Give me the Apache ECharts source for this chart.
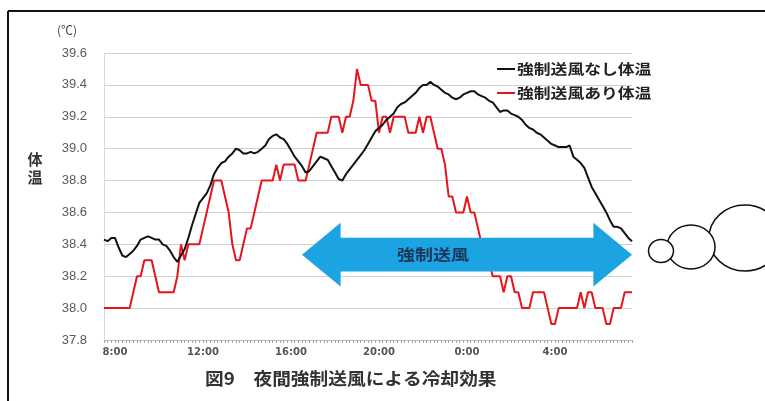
<!DOCTYPE html>
<html><head><meta charset="utf-8">
<script src="https://cdn.jsdelivr.net/npm/echarts@6/dist/echarts.min.js"></script>
<style>html,body{margin:0;padding:0;background:#fff}#c{width:765px;height:401px}</style>
</head><body><div id="c"></div>
<script>
// Time categories: every 10 minutes from 7:30 to 7:30 next day
const times = [];
for (let k = 0; k <= 144; k++) {
  const m = (7 * 60 + 30 + k * 10) % 1440;
  times.push(Math.floor(m / 60) + ':' + String(m % 60).padStart(2, '0'));
}
const shownTickLabels = ['8:00', '12:00', '16:00', '20:00', '0:00', '4:00'];
const seriesNames = ['強制送風なし体温', '強制送風あり体温'];
const noFan = [
 38.43,38.42,38.44,38.44,38.38,38.33,38.32,38.34,38.36,38.39,
 38.43,38.44,38.45,38.44,38.43,38.43,38.40,38.39,38.36,38.32,
 38.29,38.33,38.37,38.44,38.52,38.59,38.66,38.69,38.72,38.77,
 38.84,38.88,38.91,38.92,38.95,38.97,39.00,38.99,38.97,38.97,
 38.98,38.97,38.98,39.00,39.02,39.06,39.08,39.09,39.07,39.06,
 39.03,38.99,38.95,38.92,38.89,38.85,38.86,38.89,38.92,38.95,
 38.94,38.93,38.89,38.85,38.81,38.80,38.84,38.87,38.90,38.93,
 38.96,38.99,39.03,39.07,39.11,39.13,39.15,39.18,39.20,39.22,
 39.26,39.28,39.29,39.31,39.33,39.35,39.38,39.40,39.40,39.42,
 39.40,39.39,39.37,39.35,39.34,39.32,39.31,39.32,39.34,39.35,
 39.36,39.36,39.34,39.33,39.32,39.30,39.29,39.26,39.23,39.24,
 39.24,39.22,39.21,39.20,39.18,39.15,39.13,39.12,39.10,39.09,
 39.07,39.05,39.03,39.02,39.01,39.01,39.01,39.02,38.95,38.93,
 38.91,38.88,38.82,38.76,38.72,38.68,38.64,38.60,38.55,38.51,
 38.51,38.50,38.47,38.44,38.42
];
const withFan = [
 38.0,38.0,38.0,38.0,38.0,38.0,38.0,38.0,38.1,38.2,
 38.2,38.3,38.3,38.3,38.2,38.1,38.1,38.1,38.1,38.1,
 38.2,38.4,38.3,38.4,38.4,38.4,38.4,38.5,38.6,38.7,
 38.8,38.8,38.8,38.7,38.6,38.4,38.3,38.3,38.4,38.5,
 38.5,38.6,38.7,38.8,38.8,38.8,38.8,38.9,38.8,38.9,
 38.9,38.9,38.9,38.8,38.8,38.8,38.9,39.0,39.1,39.1,
 39.1,39.1,39.2,39.2,39.2,39.1,39.2,39.2,39.3,39.5,
 39.4,39.4,39.4,39.3,39.3,39.1,39.2,39.2,39.1,39.2,
 39.2,39.2,39.2,39.1,39.1,39.1,39.2,39.1,39.2,39.2,
 39.1,39.0,39.0,38.9,38.7,38.7,38.6,38.6,38.6,38.7,
 38.6,38.6,38.5,38.4,38.3,38.3,38.2,38.2,38.2,38.1,
 38.2,38.2,38.1,38.1,38.0,38.0,38.0,38.1,38.1,38.1,
 38.1,38.0,37.9,37.9,38.0,38.0,38.0,38.0,38.0,38.0,
 38.1,38.0,38.1,38.1,38.0,38.0,38.0,37.9,37.9,38.0,
 38.0,38.0,38.1,38.1,38.1
];
// Arrow annotation anchored in data space
const arrowStartIdx = 54, arrowEndIdx = 144, arrowLabelIdx = 89.7;
const arrowMid = 38.335, arrowHeadHalf = 0.2, arrowBodyHalf = 0.106;
const arrowLabel = '強制送風';
const titleText = '図9　夜間強制送風による冷却効果';

const chart = echarts.init(document.getElementById('c'));
const option = {
  animation: false,
  grid: { left: 104, right: 133, top: 53, bottom: 61 },
  xAxis: {
    type: 'category', data: times, boundaryGap: false,
    axisLine: { lineStyle: { color: '#bfbfbf', width: 1 } },
    axisTick: { interval: 0, length: 3, lineStyle: { color: '#a6a6a6' } },
    axisLabel: {
      interval: (i, v) => shownTickLabels.indexOf(v) >= 0,
      fontSize: 10, fontWeight: 'bold', color: '#555', margin: 7,
      fontFamily: 'DejaVu Sans'
    },
    splitLine: { show: false }
  },
  yAxis: {
    type: 'value', min: 37.8, max: 39.6, interval: 0.2,
    axisLine: { show: true, lineStyle: { color: '#d9d9d9' } },
    axisTick: { show: false },
    axisLabel: { formatter: v => v.toFixed(1), fontSize: 13, color: '#595959', margin: 17, fontFamily: 'Liberation Sans' },
    splitLine: { lineStyle: { color: '#d0d0d0', width: 1 } }
  },
  series: [
    { name: seriesNames[0], type: 'line', data: noFan, showSymbol: false,
      lineStyle: { color: '#111', width: 2 }, itemStyle: { color: '#111' }, z: 3 },
    { name: seriesNames[1], type: 'line', data: withFan, showSymbol: false,
      lineStyle: { color: '#e8141b', width: 2 }, itemStyle: { color: '#e8141b' }, z: 2 }
  ]
};
chart.setOption(option);

function px(idx, val) { return chart.convertToPixel({ xAxisIndex: 0, yAxisIndex: 0 }, [idx, val]); }
const pL = px(arrowStartIdx, arrowMid), pR = px(arrowEndIdx, arrowMid);
const yHeadTop = px(arrowStartIdx, arrowMid + arrowHeadHalf)[1];
const yHeadBot = px(arrowStartIdx, arrowMid - arrowHeadHalf)[1];
const yBodyTop = px(arrowStartIdx, arrowMid + arrowBodyHalf)[1];
const yBodyBot = px(arrowStartIdx, arrowMid - arrowBodyHalf)[1];
const headLen = (pR[0] - pL[0]) * 0.117;
const labelX = pL[0] + (pR[0] - pL[0]) * (arrowLabelIdx - arrowStartIdx) / (arrowEndIdx - arrowStartIdx);
const fontCJK = '"Noto Sans CJK JP", sans-serif';

chart.setOption({
  graphic: [
    // outer frame
    { type: 'line', shape: { x1: 8, y1: 11, x2: 765, y2: 11 }, style: { stroke: '#111', lineWidth: 2 } },
    { type: 'line', shape: { x1: 8, y1: 11, x2: 8, y2: 401 }, style: { stroke: '#111', lineWidth: 2 } },
    // double arrow
    { type: 'polygon', z: 10, shape: { points: [
        [pL[0], pL[1]], [pL[0] + headLen, yHeadTop], [pL[0] + headLen, yBodyTop],
        [pR[0] - headLen, yBodyTop], [pR[0] - headLen, yHeadTop], [pR[0], pR[1]],
        [pR[0] - headLen, yHeadBot], [pR[0] - headLen, yBodyBot],
        [pL[0] + headLen, yBodyBot], [pL[0] + headLen, yHeadBot]
      ] }, style: { fill: '#1ba3e2' } },
    { type: 'text', z: 11, x: labelX, y: pL[1], scaleX: 1.2, originX: 0,
      style: { text: arrowLabel, font: 'bold 15px ' + fontCJK, fill: '#1c3557', align: 'center', verticalAlign: 'middle' } },
    // legend
    { type: 'line', shape: { x1: 497, y1: 69, x2: 515, y2: 69 }, style: { stroke: '#111', lineWidth: 2 } },
    { type: 'text', x: 517, y: 69, scaleX: 1.2, originX: 0,
      style: { text: seriesNames[0], font: 'bold 14px ' + fontCJK, fill: '#222', verticalAlign: 'middle' } },
    { type: 'line', shape: { x1: 497, y1: 93, x2: 515, y2: 93 }, style: { stroke: '#e8141b', lineWidth: 2 } },
    { type: 'text', x: 517, y: 93, scaleX: 1.2, originX: 0,
      style: { text: seriesNames[1], font: 'bold 14px ' + fontCJK, fill: '#222', verticalAlign: 'middle' } },
    // unit and axis name
    { type: 'text', x: 67, y: 30, style: { text: '(℃)', font: '12px ' + fontCJK, fill: '#444', align: 'center', verticalAlign: 'middle' } },
    { type: 'text', x: 35, y: 168, style: { text: '体\n温', font: 'bold 15px ' + fontCJK, fill: '#333', align: 'center', verticalAlign: 'middle', lineHeight: 18 } },
    // title
    { type: 'text', x: 205, y: 379, scaleX: 1.1, originX: 0,
      style: { text: titleText, font: 'bold 17px ' + fontCJK, fill: '#333', verticalAlign: 'middle' } },
    // thought bubbles
    { type: 'ellipse', z: 1, shape: { cx: 745, cy: 238, rx: 36, ry: 33 }, style: { fill: '#fff', stroke: '#111', lineWidth: 1.5 } },
    { type: 'ellipse', z: 2, shape: { cx: 691, cy: 247, rx: 24, ry: 22 }, style: { fill: '#fff', stroke: '#111', lineWidth: 1.5 } },
    { type: 'ellipse', z: 3, shape: { cx: 661, cy: 251, rx: 12.5, ry: 11.5 }, style: { fill: '#fff', stroke: '#111', lineWidth: 1.5 } }
  ]
});
</script></body></html>
